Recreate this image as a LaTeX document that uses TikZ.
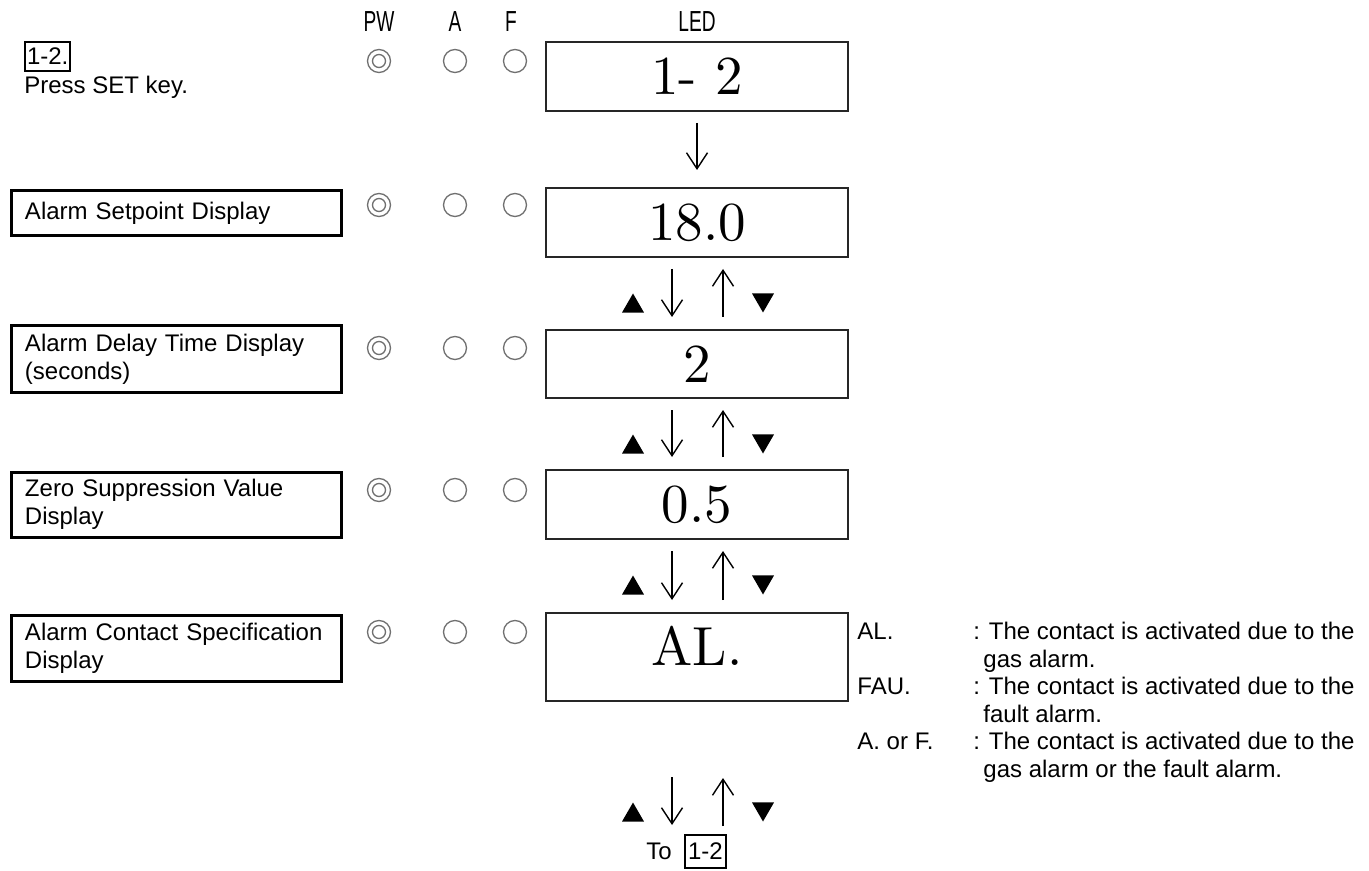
\documentclass[tikz,border=0pt]{standalone}
\usepackage{fontspec}
\usepackage{graphicx}
\usetikzlibrary{arrows.meta,shapes.geometric,calc}
\newfontfamily\arialf{Liberation Sans}
\newfontfamily\ledf{lmroman10-regular}[Extension=.otf]
\newcommand\labfont{\arialf\fontsize{12}{13.8}\selectfont}
\newcommand\ledfont{\ledf\fontsize{27.5}{29}\selectfont}
\newcommand\hdrfont{\arialf\fontsize{14.5}{16}\selectfont}
\newcommand\narrowtext[1]{\scalebox{0.66}[1]{#1}}
\definecolor{ringgray}{HTML}{707070}
\definecolor{boxdark}{HTML}{262626}
\begin{document}
\begin{tikzpicture}[x=0.5pt,y=-0.5pt,
 lbl/.style={draw,line width=1.5pt,anchor=north west,minimum width=165pt,text width=151pt,inner xsep=7pt,align=left,font=\labfont},
 led/.style={draw=boxdark,line width=1pt,minimum width=151pt,inner sep=0pt,font=\ledfont},
 ring/.style={circle,draw=ringgray,line width=0.65pt,minimum size=11.5pt,inner sep=0pt},
 ringin/.style={circle,draw=ringgray,line width=0.65pt,minimum size=6.5pt,inner sep=0pt},
 arr/.style={line width=0.7pt,-{Straight Barb[length=8pt,width=10.5pt]}},
 tup/.style={regular polygon,regular polygon sides=3,fill,inner sep=0pt,minimum size=12.7pt},
 tdn/.style={tup,shape border rotate=180},
 txt/.style={anchor=base west,inner sep=0pt,font=\labfont},
 hdr/.style={anchor=base,inner sep=0pt,font=\hdrfont},
 tag/.style={draw,line width=1pt,inner xsep=1pt,inner ysep=0pt,font=\labfont}]
\useasboundingbox[fill=white] (0,0) rectangle (1369,871);

% header
\node[hdr] (hPW) at (379,32) {\narrowtext{PW}};
\node[hdr] (hA) at (455,32) {\narrowtext{A}};
\node[hdr] (hF) at (511,32) {\narrowtext{F}};
\node[hdr] (hLED) at (697,32) {\narrowtext{LED}};

% top-left step
\node[tag,anchor=north west,minimum height=14.5pt] (step12) at (24,41) {1-2.};
\node[txt] (press) at (24,94) {Press SET key.};

% left label boxes
\node[lbl,minimum height=22.5pt] (lA) at (9.5,189.5) {Alarm Setpoint Display};
\node[lbl,minimum height=33pt] (lB) at (9.5,324.5) {Alarm Delay Time Display\\(seconds)};
\node[lbl,minimum height=32.5pt] (lC) at (9.5,470.5) {Zero Suppression Value\\Display};
\node[lbl,minimum height=33pt] (lD) at (9.5,613.5) {Alarm Contact Specification\\Display};

% LED boxes
\node[led,minimum height=34.5pt] (b1) at (697,76.5) {1- 2};
\node[led,minimum height=34.5pt] (b2) at (697,222.5) {18.0};
\node[led,minimum height=34pt] (b3) at (697,364) {2};
\node[led,minimum height=34.5pt] (b4) at (697,504.5) {0.5};
\node[led,minimum height=44pt] (b5) at (697,657) {};
\node[inner sep=0pt,font=\ledfont] (b5t) at (697,646) {AL.};

% indicator rings
\foreach \r/\y in {1/61,2/205,3/348,4/490,5/632}{
  \node[ring] (pw\r) at (379,\y) {};
  \node[ringin] (pwi\r) at (379,\y) {};
  \node[ring] (ra\r) at (455,\y) {};
  \node[ring] (rf\r) at (515,\y) {};
}

% arrows
\draw[arr,shorten <=5.5pt,shorten >=8.5pt] (b1.south) -- (b2.north);
\foreach \u/\l/\ty in {b2/b3/303,b3/b4/444,b4/b5/585}{
  \draw[arr,shorten <=5.5pt,shorten >=6pt] ([xshift=-12.5pt]\u.south) -- ([xshift=-12.5pt]\l.north);
  \draw[arr,shorten <=6pt,shorten >=5.5pt] ([xshift=13pt]\l.north) -- ([xshift=13pt]\u.south);
  \node[tup] (tu\u) at (633,\ty+3.2) {};
  \node[tdn] (td\u) at (763,\ty-3.2) {};
}

% return to 1-2
\node[txt] (to) at (646,859) {To};
\node[tag,anchor=north west,minimum height=16.5pt,inner xsep=1.5pt] (ret12) at (684,834) {1-2};
\draw[arr] ($(b5.south)+(-25,75)$) -- ($(b5.south)+(-25,123)$);
\draw[arr] ($(b5.south)+(26,124)$) -- ($(b5.south)+(26,76)$);
\node[tup] (tu5) at (633,815.2) {};
\node[tdn] (td5) at (763,808.8) {};

% contact specification notes
\node[txt] (kAL) at (857,639) {AL.};
\node[txt] (dAL) at (973,639) {: The contact is activated due to the};
\node[txt] (dAL2) at (983,667) {gas alarm.};
\node[txt] (kFAU) at (857,694) {FAU.};
\node[txt] (dFAU) at (973,694) {: The contact is activated due to the};
\node[txt] (dFAU2) at (983,722) {fault alarm.};
\node[txt] (kAF) at (857,749) {A. or F.};
\node[txt] (dAF) at (973,749) {: The contact is activated due to the};
\node[txt] (dAF2) at (983,777) {gas alarm or the fault alarm.};
\end{tikzpicture}
\end{document}
